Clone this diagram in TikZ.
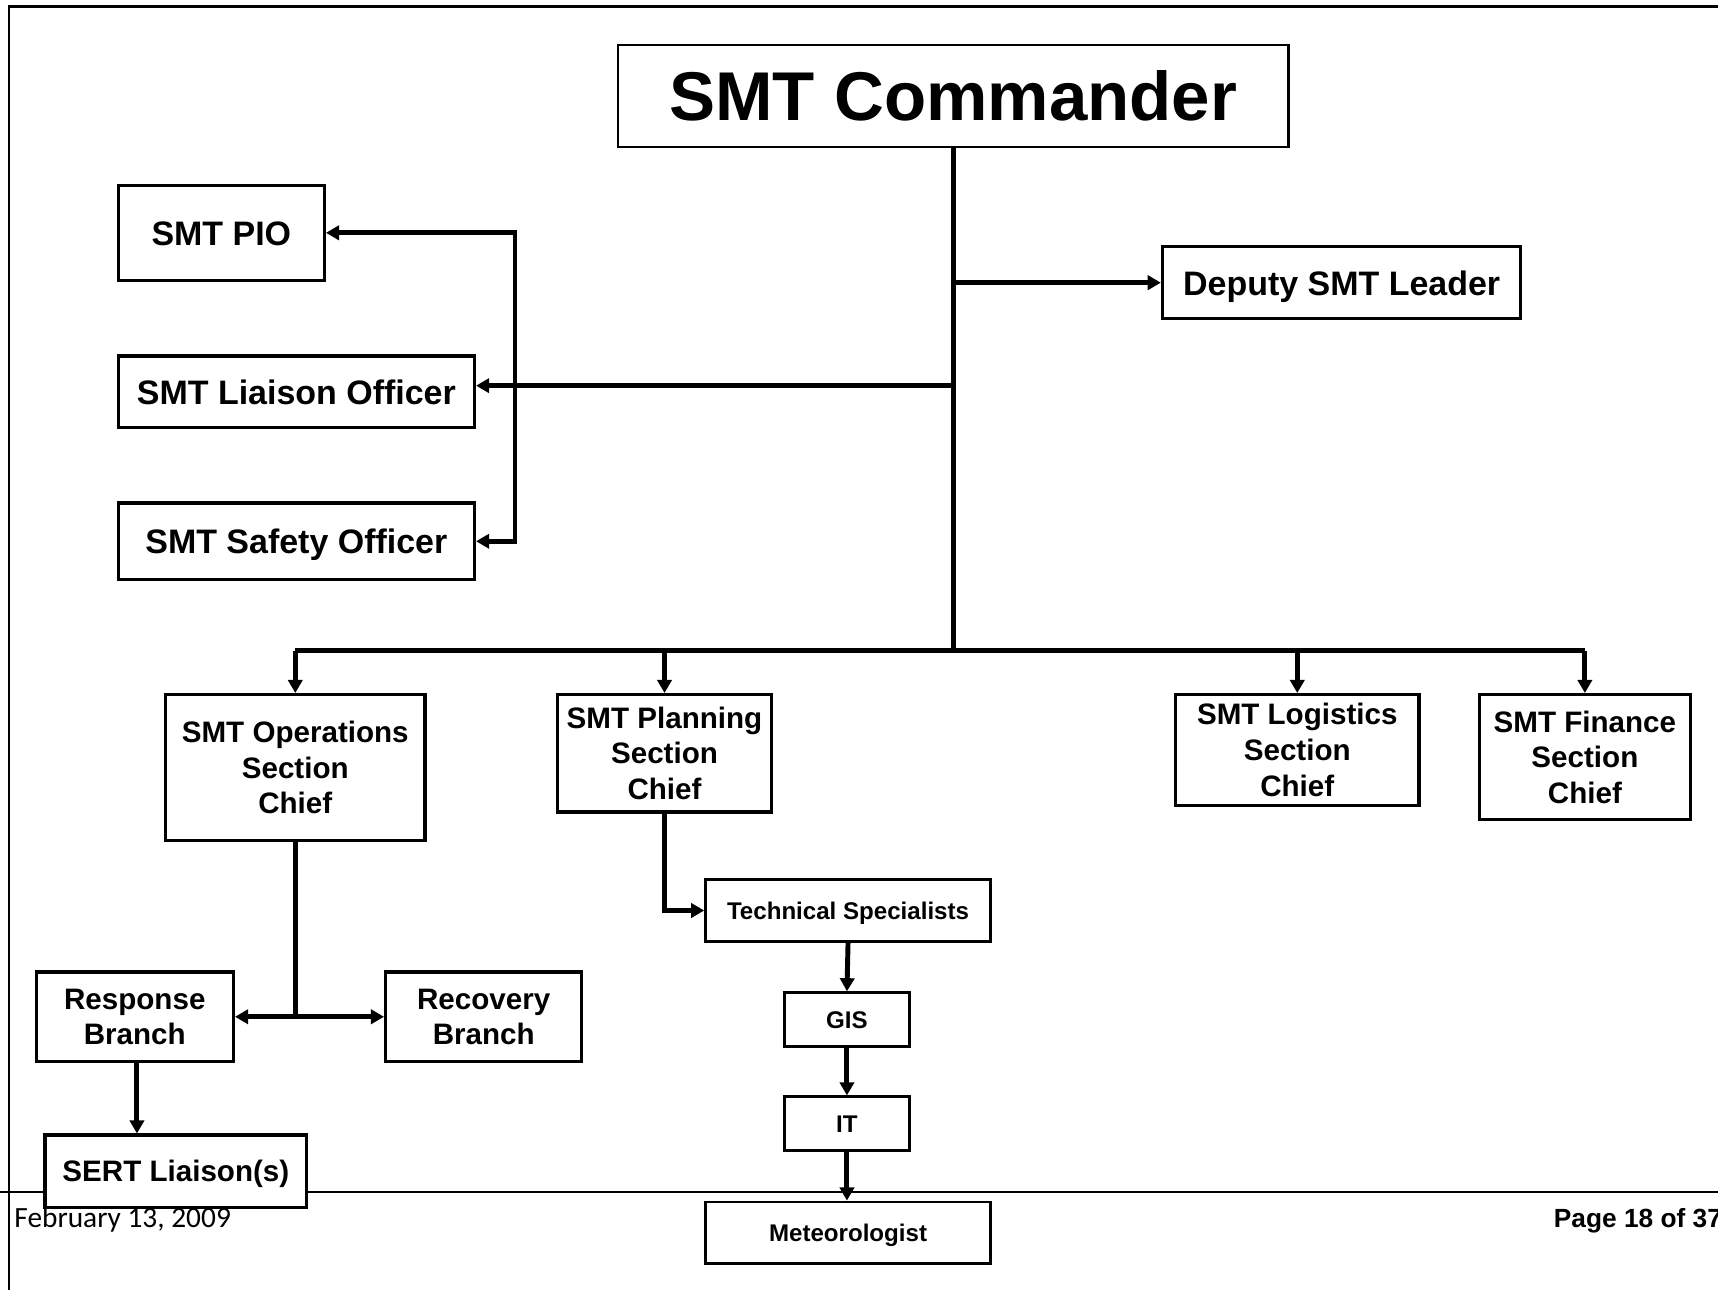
\documentclass[tikz,border=0pt]{standalone}
\usepackage{fontspec}
\setmainfont{Liberation Sans}
\newfontfamily\calibfont{Carlito}
\usetikzlibrary{arrows.meta}
\tikzset{
  bx/.style={draw=black, line width=3pt, fill=white, inner sep=0pt, align=center},
  smallbx/.style={bx, line width=2.5pt, font=\fontsize{22}{26}\selectfont\bfseries, text height=16.5pt, text depth=0pt},
  midtxt/.style={font=\fontsize{31}{37}\selectfont\bfseries, text height=22.5pt, text depth=0pt},
  sectxt/.style={font=\fontsize{27}{32.5}\selectfont\bfseries},
  conn/.style={line width=4.5pt, line join=miter},
  arr/.style={conn, -{Triangle[length=12pt,width=13pt]}},
  dblarr/.style={conn, {Triangle[length=12pt,width=13pt]}-{Triangle[length=12pt,width=13pt]}},
  frameline/.style={line width=2pt}
}
\begin{document}
\begin{tikzpicture}[x=1pt,y=-1pt]
\useasboundingbox (0,0) rectangle (1568,1177);
% page frame
\draw[frameline] (8,1177) -- (8,6) -- (1568,6);
\draw[frameline] (0,1088) -- (1568,1088);

% nodes
\node[bx, line width=2pt, minimum width=612, minimum height=93, font=\fontsize{63}{70}\selectfont\bfseries] (cmd) at (870,87.5) {SMT Commander};
\node[bx, midtxt, minimum width=327, minimum height=66] (dep) at (1224.5,258) {Deputy SMT Leader};
\node[bx, midtxt, minimum width=188, minimum height=87] (pio) at (202,212.5) {SMT PIO};
\node[bx, midtxt, minimum width=325, minimum height=65] (lia) at (270.5,357.5) {SMT Liaison Officer};
\node[bx, midtxt, minimum width=325, minimum height=70] (saf) at (270.5,494) {SMT Safety Officer};

\node[bx, sectxt, minimum width=237, minimum height=133] (ops) at (269.5,700.5) {SMT Operations\\Section\\Chief};
\node[bx, sectxt, minimum width=195, minimum height=107] (plan) at (606.5,687.5) {SMT Planning\\Section\\Chief};
\node[bx, sectxt, minimum width=222, minimum height=101] (log) at (1184,684.5) {SMT Logistics\\Section\\Chief};
\node[bx, sectxt, minimum width=193, minimum height=114] (fin) at (1446.5,691) {SMT Finance\\Section\\Chief};

\node[bx, sectxt, minimum width=180, minimum height=82] (resp) at (123,928) {Response\\Branch};
\node[bx, sectxt, minimum width=179, minimum height=82] (rec) at (441.5,928) {Recovery\\Branch};
\node[bx, sectxt, text height=19.5pt, text depth=0pt, minimum width=239, minimum height=66] (sert) at (160.5,1069) {SERT Liaison(s)};

\node[smallbx, minimum width=260, minimum height=56] (tech) at (774,831) {Technical Specialists};
\node[smallbx, minimum width=114, minimum height=49] (gis) at (773,930.5) {GIS};
\node[smallbx, minimum width=114, minimum height=49] (it) at (773,1025.5) {IT};
\node[smallbx, minimum width=260, minimum height=56] (met) at (774,1125) {Meteorologist};

% junction coordinates
\coordinate (bus) at (870,594);
\coordinate (jdep) at (870,258);
\coordinate (jlia) at (870,352);
\coordinate (bt) at (470,212.5);
\coordinate (bb) at (470,494);
\coordinate (opsj) at (269.5,928);

% connectors
\draw[conn] (cmd.south) -- (bus);
\draw[arr] (jdep) -- (dep.west);
\draw[arr] (jlia) -- (jlia -| lia.east);
\draw[dblarr] (pio.east) -- (bt) -- (bb) -- (saf.east);
\draw[conn] (bus -| ops.north) -- (bus -| fin.north);
\draw[arr] (bus -| ops.north) -- (ops.north);
\draw[arr] (bus -| plan.north) -- (plan.north);
\draw[arr] (bus -| log.north) -- (log.north);
\draw[arr] (bus -| fin.north) -- (fin.north);
\draw[conn] (ops.south) -- (opsj);
\draw[dblarr] (resp.east) -- (rec.west);
\draw[arr] ([xshift=2pt]resp.south) -- ([xshift=2pt]resp.south |- sert.north);
\draw[arr] (plan.south) -- (plan.south |- tech.west) -- (tech.west);
\draw[arr] (tech.south) -- (gis.north);
\draw[arr] (gis.south) -- (it.north);
\draw[arr] (it.south) -- (it.south |- met.north);

% footer
\node[anchor=base west, inner sep=0pt, font=\calibfont\fontsize{26.8}{30}\selectfont] (date) at (13,1120) {February 13, 2009};
\node[anchor=base west, inner sep=0pt, font=\fontsize{24}{28}\selectfont\bfseries] (page) at (1418,1120) {Page 18 of 37};
\end{tikzpicture}
\end{document}
